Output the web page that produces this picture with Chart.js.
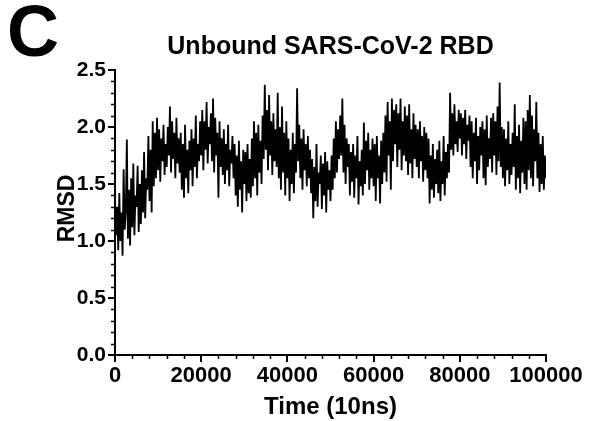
<!DOCTYPE html>
<html>
<head>
<meta charset="utf-8">
<script src="https://cdn.jsdelivr.net/npm/chart.js@4.4.1/dist/chart.umd.min.js"></script>
<style>
  html, body { margin: 0; padding: 0; background: #fff; }
  #wrap { width: 591px; height: 421px; position: relative; }
</style>
</head>
<body>
<div id="wrap"><canvas id="rmsd-chart" width="591" height="421"></canvas></div>
<script>
// --- datos ---
const panelLetter = 'C';
const chartTitle = 'Unbound SARS-CoV-2 RBD';
const xAxisTitle = 'Time (10ns)';
const yAxisTitle = 'RMSD';
const timeStep = 250; // una muestra cada 250 unidades de tiempo
const xTicks = [0, 20000, 40000, 60000, 80000, 100000];
const yTicks = [0.0, 0.5, 1.0, 1.5, 2.0, 2.5];
const rmsd = [
  1.38, 1.05, 1.30, 0.92, 1.42, 1.00, 1.25, 0.87, 1.63, 1.10,
  1.25, 1.89, 1.02, 1.45, 0.96, 1.55, 1.12, 1.68, 1.05, 1.40,
  1.30, 1.66, 1.08, 1.50, 1.15, 1.62, 1.25, 1.78, 1.20, 1.55,
  1.45, 1.92, 1.35, 1.80, 1.25, 2.05, 1.48, 1.95, 1.55, 2.08,
  1.62, 1.98, 1.52, 1.90, 1.70, 2.02, 1.58, 1.85, 1.65, 2.00,
  1.75, 2.18, 1.60, 2.05, 1.72, 1.95, 1.55, 2.08, 1.68, 1.90,
  1.60, 1.95, 1.45, 1.85, 1.38, 2.02, 1.55, 1.80, 1.42, 1.88,
  1.62, 1.98, 1.48, 1.90, 1.65, 2.10, 1.55, 1.85, 1.70, 2.05,
  1.75, 2.15, 1.62, 2.05, 1.80, 2.22, 1.68, 2.00, 1.85, 2.12,
  1.70, 2.25, 1.60, 2.08, 1.75, 1.95, 1.38, 2.05, 1.65, 1.90,
  1.58, 1.98, 1.50, 1.85, 1.62, 2.02, 1.48, 1.80, 1.68, 1.92,
  1.55, 1.85, 1.40, 1.75, 1.30, 1.88, 1.45, 1.70, 1.25, 1.80,
  1.50, 1.78, 1.35, 1.85, 1.42, 1.72, 1.38, 1.90, 1.48, 2.05,
  1.55, 1.95, 1.40, 2.02, 1.60, 1.88, 1.50, 2.10, 1.72, 2.37,
  1.80, 2.15, 1.62, 2.28, 1.75, 2.05, 1.58, 2.12, 1.70, 1.98,
  1.65, 2.30, 1.55, 2.00, 1.45, 2.18, 1.60, 1.95, 1.40, 2.05,
  1.55, 1.90, 1.35, 1.80, 1.50, 1.95, 1.42, 1.85, 1.60, 2.34,
  1.70, 2.02, 1.55, 1.90, 1.45, 1.98, 1.62, 1.85, 1.48, 1.92,
  1.55, 1.80, 1.42, 1.72, 1.20, 1.65, 1.35, 1.85, 1.30, 1.60,
  1.50, 1.75, 1.28, 1.68, 1.40, 1.78, 1.25, 1.70, 1.45, 1.62,
  1.35, 1.75, 1.45, 1.90, 1.55, 2.05, 1.60, 1.98, 1.72, 2.10,
  1.75, 2.25, 1.60, 2.02, 1.50, 1.90, 1.65, 1.85, 1.40, 1.78,
  1.52, 1.85, 1.38, 1.75, 1.55, 1.92, 1.32, 1.70, 1.48, 1.80,
  1.40, 2.04, 1.50, 1.88, 1.62, 1.95, 1.45, 1.80, 1.55, 1.90,
  1.48, 1.85, 1.35, 1.92, 1.55, 1.75, 1.33, 1.88, 1.50, 1.95,
  1.60, 2.10, 1.52, 2.22, 1.75, 2.05, 1.45, 2.25, 1.70, 2.15,
  1.85, 2.20, 1.65, 2.12, 1.80, 2.25, 1.62, 2.05, 1.75, 2.18,
  1.70, 2.10, 1.58, 2.20, 1.68, 1.98, 1.55, 2.12, 1.72, 2.02,
  1.65, 1.98, 1.55, 2.05, 1.70, 1.92, 1.52, 2.00, 1.62, 1.95,
  1.55, 1.90, 1.33, 1.75, 1.45, 1.85, 1.38, 1.72, 1.50, 1.80,
  1.42, 1.88, 1.35, 1.70, 1.50, 1.92, 1.40, 1.78, 1.55, 1.85,
  1.60, 2.30, 1.80, 2.12, 1.75, 2.20, 1.85, 2.05, 1.78, 2.15,
  1.90, 2.12, 1.75, 2.08, 1.85, 2.15, 1.72, 2.02, 1.88, 2.10,
  1.65, 2.05, 1.55, 1.95, 1.70, 2.08, 1.50, 1.92, 1.62, 2.00,
  1.75, 2.05, 1.55, 1.98, 1.49, 2.10, 1.65, 1.90, 1.72, 2.08,
  1.60, 2.12, 1.75, 2.05, 1.58, 2.18, 1.70, 2.39, 1.65, 2.00,
  1.55, 1.98, 1.48, 1.90, 1.62, 2.05, 1.50, 1.85, 1.58, 1.95,
  1.65, 2.20, 1.45, 1.92, 1.55, 2.02, 1.42, 1.88, 1.60, 2.08,
  1.50, 2.05, 1.45, 2.15, 1.62, 2.28, 1.55, 2.10, 1.48, 1.98,
  1.70, 2.22, 1.55, 1.95, 1.43, 1.85, 1.50, 1.92, 1.45, 1.75,
  1.55
];

const FONT = '"Liberation Sans", Arial, Helvetica, sans-serif';
const points = rmsd.map((v, i) => ({ x: i * timeStep, y: v }));

// marcas menores y textos fijos
const extrasPlugin = {
  id: 'extras',
  afterDraw(chart) {
    const { ctx, chartArea, scales } = chart;
    ctx.save();
    ctx.strokeStyle = '#000';
    ctx.lineWidth = 1.5;
    for (let t = 4000; t < 100000; t += 4000) {
      if (t % 20000 === 0) continue;
      const px = Math.round(scales.x.getPixelForValue(t)) + 0.5;
      ctx.beginPath(); ctx.moveTo(px, chartArea.bottom); ctx.lineTo(px, chartArea.bottom + 4); ctx.stroke();
    }
    for (let k = 1; k < 25; k++) {
      if (k % 5 === 0) continue;
      const py = Math.round(scales.y.getPixelForValue(k / 10)) + 0.5;
      ctx.beginPath(); ctx.moveTo(chartArea.left, py); ctx.lineTo(chartArea.left - 4, py); ctx.stroke();
    }
    ctx.fillStyle = '#000';
    ctx.textAlign = 'left';
    ctx.textBaseline = 'alphabetic';
    ctx.font = 'bold 72px ' + FONT;
    ctx.fillText(panelLetter, 7, 56);
    const cx = (chartArea.left + chartArea.right) / 2;
    ctx.textAlign = 'center';
    ctx.font = 'bold 25px ' + FONT;
    ctx.fillText(chartTitle, cx, 54);
    ctx.font = 'bold 24px ' + FONT;
    ctx.fillText(xAxisTitle, cx, 414);
    ctx.font = 'bold 23px ' + FONT;
    ctx.translate(74, (chartArea.top + chartArea.bottom) / 2 - 4);
    ctx.rotate(-Math.PI / 2);
    ctx.fillText(yAxisTitle, 0, 0);
    ctx.restore();
  }
};

const ctx = document.getElementById('rmsd-chart').getContext('2d');
new Chart(ctx, {
  type: 'line',
  data: {
    datasets: [{
      data: points,
      borderColor: '#000',
      borderWidth: 1.8,
      pointRadius: 0,
      tension: 0,
      fill: false
    }]
  },
  options: {
    responsive: false,
    animation: false,
    events: [],
    layout: { padding: { top: 70, right: 45, left: 0, bottom: 0 } },
    plugins: { legend: { display: false }, tooltip: { enabled: false } },
    scales: {
      x: {
        type: 'linear',
        min: xTicks[0],
        max: xTicks[xTicks.length - 1],
        afterBuildTicks: s => { s.ticks = xTicks.map(v => ({ value: v })); },
        afterFit: s => { s.height = 66; },
        ticks: { color: '#000', font: { family: FONT, size: 22, weight: 'bold' }, padding: 1, maxRotation: 0, autoSkip: false, callback: v => String(v) },
        grid: { drawOnChartArea: false, color: '#000', lineWidth: 2, tickLength: 7 },
        border: { color: '#000', width: 2 }
      },
      y: {
        min: yTicks[0],
        max: yTicks[yTicks.length - 1],
        afterBuildTicks: s => { s.ticks = yTicks.map(v => ({ value: v })); },
        afterFit: s => { s.width = 115; },
        ticks: { color: '#000', font: { family: FONT, size: 21, weight: 'bold' }, padding: 2, callback: v => Number(v).toFixed(1) },
        grid: { drawOnChartArea: false, color: '#000', lineWidth: 2, tickLength: 7 },
        border: { color: '#000', width: 2 }
      }
    }
  },
  plugins: [extrasPlugin]
});
</script>
</body>
</html>
